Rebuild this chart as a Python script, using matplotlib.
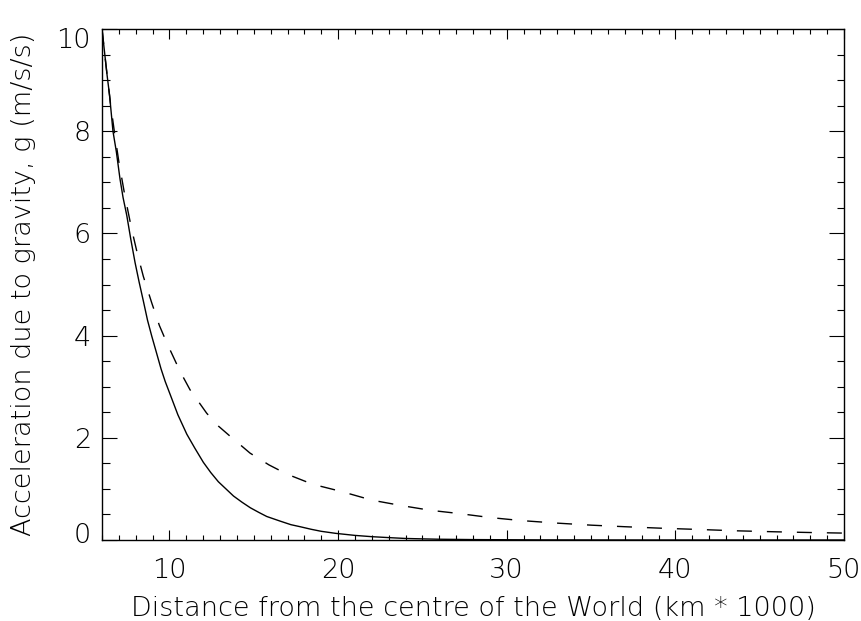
import matplotlib
matplotlib.use('Agg')
import matplotlib.pyplot as plt
from matplotlib.ticker import MultipleLocator
from matplotlib.transforms import ScaledTranslation

plt.rcParams['font.family'] = ['DejaVu Sans']
plt.rcParams['font.weight'] = 'light'
plt.rcParams['axes.labelweight'] = 'light'

# Valeurs (distance en milliers de km, g en m/s/s)
dist_solid = [6.0, 6.15, 6.3, 6.45, 6.65, 6.85, 7.07, 7.25, 7.47, 7.7, 7.96,
              8.2, 8.45, 8.7, 8.95, 9.2, 9.5, 9.75, 10.04, 10.5, 11.03, 11.5,
              12.01, 12.45, 12.9, 13.35, 13.8, 14.3, 14.8, 15.3, 15.77, 16.56,
              17.2, 17.75, 18.4, 19.0, 19.86, 21.0, 22.0, 23.1, 24.0, 25.0,
              26.0, 28.0, 30.0, 32.0, 38.0, 44.0, 50.0]
g_solid = [10.0, 9.55, 9.1, 8.7, 8.0, 7.6, 7.06, 6.7, 6.35, 5.9, 5.43,
           5.05, 4.68, 4.3, 3.99, 3.7, 3.35, 3.1, 2.85, 2.45, 2.07, 1.8,
           1.52, 1.32, 1.14, 1.0, 0.86, 0.74, 0.63, 0.54, 0.46, 0.37,
           0.30, 0.26, 0.21, 0.17, 0.13, 0.09, 0.065, 0.045, 0.03, 0.022,
           0.015, 0.008, 0.005, 0.002, 0.0, 0.0, 0.0]

dist_dash = [6.0, 6.25, 6.5, 6.75, 7.0, 7.36, 7.76, 8.1, 8.45, 8.95, 9.4, 9.84,
             10.63, 11.22, 12.21, 12.9, 13.6, 14.78, 15.9, 16.96, 18.5, 20.19,
             22.0, 23.82, 25.5, 27.12, 29.0, 30.86, 33.0, 35.03, 37.0, 39.22,
             41.5, 43.6, 46.0, 48.2, 50.0]
g_dash = [10.0, 9.25, 8.55, 7.95, 7.4, 6.73, 6.08, 5.6, 5.16, 4.64, 4.2, 3.86,
          3.30, 2.94, 2.48, 2.23, 2.03, 1.70, 1.47, 1.29, 1.09, 0.95,
          0.78, 0.67, 0.58, 0.52, 0.44, 0.38, 0.33, 0.29, 0.26, 0.23,
          0.205, 0.18, 0.16, 0.145, 0.135]

x_ticks = [10, 20, 30, 40, 50]
y_ticks = [0, 2, 4, 6, 8, 10]

fig = plt.figure(figsize=(8.61, 6.21), dpi=100)
ax = fig.add_axes([102 / 861, 1 - 540 / 621, 742 / 861, 511 / 621])

ax.plot(dist_solid, g_solid, color='black', lw=1.0)
ax.plot(dist_dash, g_dash, color='black', lw=1.0, linestyle=(0, (10.8, 10.8)))

ax.set_xlim(6, 50)
ax.set_ylim(0, 10)
ax.set_xticks(x_ticks)
ax.set_yticks(y_ticks)
ax.xaxis.set_minor_locator(MultipleLocator(1))
ax.yaxis.set_minor_locator(MultipleLocator(0.5))

fs = 19.5
ax.tick_params(axis='both', which='both', direction='in', top=True, right=True,
               width=0.8, colors='black', labelsize=fs)
ax.tick_params(axis='x', which='major', length=7.2, pad=13)
ax.tick_params(axis='x', which='minor', length=3.6)
ax.tick_params(axis='y', which='major', length=10.8, pad=8)
ax.tick_params(axis='y', which='minor', length=5.4)
for s in ax.spines.values():
    s.set_linewidth(1.0)

# decalage des etiquettes extremes de l'axe y, comme sur l'original
ylab = ax.get_yticklabels()
ylab[0].set_transform(ylab[0].get_transform() + ScaledTranslation(0, 7 / 100, fig.dpi_scale_trans))
ylab[-1].set_transform(ylab[-1].get_transform() + ScaledTranslation(0, -9 / 100, fig.dpi_scale_trans))

ax.set_xlabel('Distance from the centre of the World (km * 1000)', fontsize=fs,
              fontweight='light')
ax.xaxis.set_label_coords(0.5, (540 - 616) / 511)
ax.xaxis.label.set_va('baseline')

ax.set_ylabel('Acceleration due to gravity, g (m/s/s)', fontsize=fs,
              fontweight='light')
ax.yaxis.set_label_coords((24 - 102) / 742, 0.5)
ax.yaxis.label.set_va('center')

fig.savefig('out.png', dpi=100)
